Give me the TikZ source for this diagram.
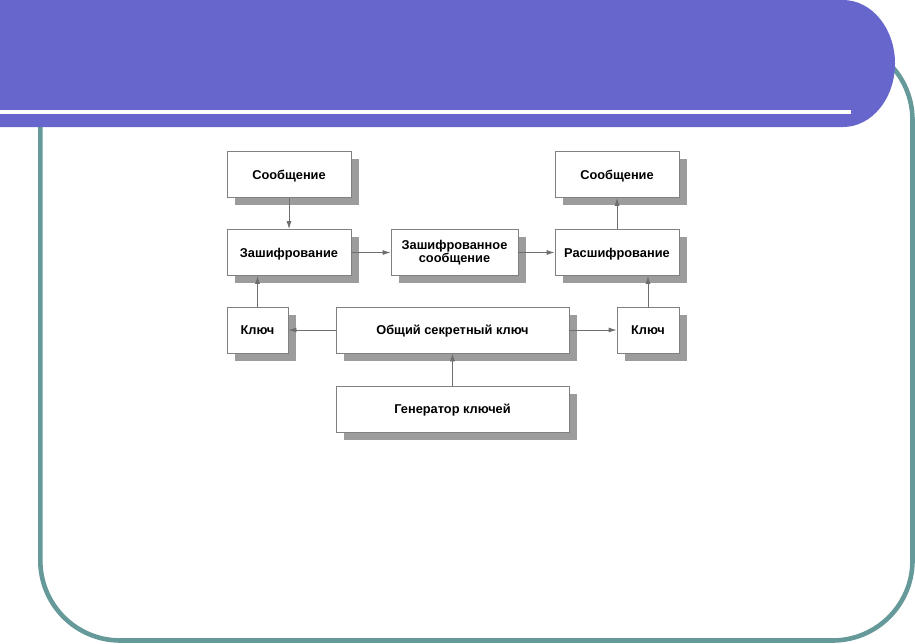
\documentclass[tikz,border=0pt]{standalone}
\usepackage{fontspec}
\setmainfont{Liberation Sans}
\usetikzlibrary{arrows.meta,shadows}
\definecolor{banner}{HTML}{6666CC}
\definecolor{frameteal}{HTML}{669999}
\definecolor{boxline}{HTML}{808080}
\definecolor{shadowgray}{HTML}{9C9C9C}
\definecolor{arrowgray}{HTML}{6E6E6E}
\tikzset{
  blk/.style={draw=boxline, line width=0.8pt, fill=white, minimum height=46pt,
    inner sep=0pt, align=center,
    font=\fontsize{12.8}{13}\selectfont\bfseries,
    drop shadow={shadow xshift=7.5pt, shadow yshift=-7.5pt, fill=shadowgray, opacity=1}},
  oneline/.style={text height=9.6pt, text depth=0pt},
  conn/.style={draw=arrowgray, line width=0.8pt,
    -{Latex[length=8pt,width=5pt]}}
}
\begin{document}
\begin{tikzpicture}[x=1pt,y=-1pt]
\useasboundingbox (0,0) rectangle (915,643);
% frame
\draw[frameteal, line width=4.6pt, rounded corners=80pt] (40.3,40) rectangle (912.5,640.5);
% banner
\fill[banner] (0,0) -- (843,0) arc[start angle=-90,end angle=90,x radius=52,y radius=63.5] -- (0,127) -- cycle;
\fill[white] (0,109.5) rectangle (851,114);
% nodes
\node[blk, oneline, minimum width=124pt] (msgL) at (289,174.5) {Сообщение};
\node[blk, oneline, minimum width=124pt] (enc) at (289,252.5) {Зашифрование};
\node[blk, minimum width=127pt] (ct) at (454.5,252.5) {Зашифрованное\\сообщение};
\node[blk, oneline, minimum width=124pt] (dec) at (617,252.5) {Расшифрование};
\node[blk, oneline, minimum width=124pt] (msgR) at (617,174.5) {Сообщение};
\node[blk, oneline, minimum width=61pt] (keyL) at (257.5,330) {Ключ};
\node[blk, oneline, minimum width=233pt] (shared) at (452.5,330) {Общий секретный ключ};
\node[blk, oneline, minimum width=62pt] (keyR) at (648,330) {Ключ};
\node[blk, oneline, minimum width=233pt] (gen) at (452.5,409) {Генератор ключей};
% connectors
\draw[conn] (msgL) -- (enc);
\draw[conn] (enc) -- (ct);
\draw[conn] (ct) -- (dec);
\draw[conn] (dec) -- (msgR);
\draw[conn] (keyL.north) -- (keyL.north |- enc.south);
\draw[conn] (keyR.north) -- (keyR.north |- dec.south);
\draw[conn] (shared) -- (keyL);
\draw[conn] (shared) -- (keyR);
\draw[conn] (gen.north) -- (gen.north |- shared.south);
\end{tikzpicture}
\end{document}
